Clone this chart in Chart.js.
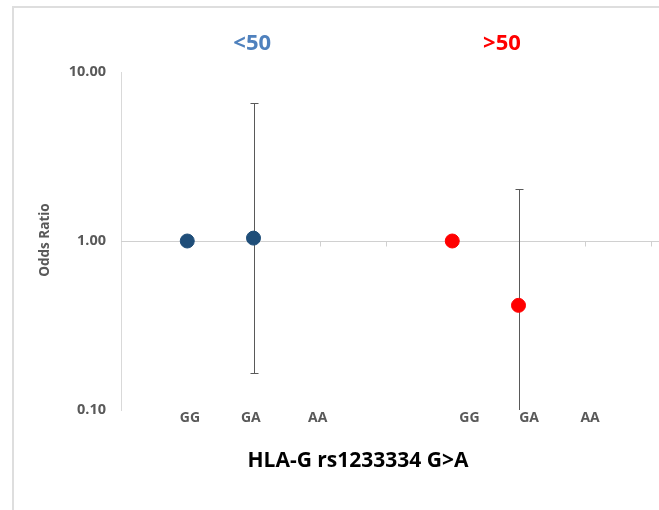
<!DOCTYPE html>
<html>
<head>
<meta charset="utf-8">
<script src="https://cdn.jsdelivr.net/npm/chart.js@4"></script>
<style>
  body { margin: 0; background: #fff; overflow: hidden; }
  #frame { position: absolute; left: 12px; top: 6px; width: 720px; height: 600px; border: 2px solid #dedede; }
  #wrap { position: absolute; left: 0; top: 0; width: 659px; height: 510px; }
</style>
</head>
<body>
<div id="frame"></div>
<div id="wrap"><canvas id="grafico" width="659" height="510"></canvas></div>
<script>
// grupos de edad y genotipos
const grupos = ['<50', '>50'];
const genotipos = ['GG', 'GA', 'AA', 'GG', 'GA', 'AA'];

// posición (en unidades del eje x) de cada genotipo
const xMenor50 = [1, 2, 3];
const xMayor50 = [5, 6, 7];
// donde va cada etiqueta del eje x y cada título de grupo
const xEtiquetas = [1.04, 1.96, 2.97, 5.26, 6.16, 7.08];
const xGrupos = [1.98, 5.75];

// odds ratio e intervalos de confianza
const orMenor50 = [1.00, 1.04, null];
const infMenor50 = [null, 0.166, null];
const supMenor50 = [null, 6.55, null];

const orMayor50 = [1.00, 0.416, null];
const infMayor50 = [null, 0.09, null];
const supMayor50 = [null, 2.03, null];

const ticksY = [0.1, 1, 10];

const fuente = 'Open Sans';

function puntos(xs, ys) {
    return xs.map((x, i) => ({ x: x, y: ys[i] })).filter(p => p.y !== null);
}

// líneas de error, línea del 1.00 y textos
const extras = {
    id: 'extras',
    beforeDatasetsDraw(chart) {
        const { ctx, chartArea, scales: { x, y } } = chart;
        ctx.save();
        // línea de referencia en 1.00
        const y1 = Math.round(y.getPixelForValue(1)) + 0.5;
        ctx.strokeStyle = '#d0d0d0';
        ctx.lineWidth = 1;
        ctx.beginPath();
        ctx.moveTo(chartArea.left, y1);
        ctx.lineTo(chart.width, y1);
        for (let v = x.min + 1; v <= x.max; v++) {
            const px = Math.round(x.getPixelForValue(v)) + 0.5;
            ctx.moveTo(px, y1);
            ctx.lineTo(px, y1 + 5);
        }
        ctx.stroke();

        // barras de error
        ctx.beginPath();
        ctx.rect(chartArea.left, chartArea.top, chartArea.right - chartArea.left + 10, chartArea.bottom - chartArea.top);
        ctx.clip();
        ctx.strokeStyle = '#595959';
        ctx.lineWidth = 1;
        chart.data.datasets.forEach(ds => {
            ds.xs.forEach((xv, i) => {
                if (ds.inf[i] === null || ds.sup[i] === null) return;
                const px = Math.round(x.getPixelForValue(xv)) + 0.5;
                const pl = Math.round(y.getPixelForValue(ds.inf[i])) + 0.5;
                const ph = Math.round(y.getPixelForValue(ds.sup[i])) + 0.5;
                ctx.beginPath();
                ctx.moveTo(px, pl);
                ctx.lineTo(px, ph);
                ctx.moveTo(px - 4, ph);
                ctx.lineTo(px + 4, ph);
                ctx.moveTo(px - 4, pl);
                ctx.lineTo(px + 4, pl);
                ctx.stroke();
            });
        });
        ctx.restore();
    },
    afterDraw(chart) {
        const { ctx, scales: { x } } = chart;
        ctx.save();
        ctx.textAlign = 'center';
        ctx.textBaseline = 'middle';
        // títulos de grupo
        const colores = ['#4f81bd', '#ff0000'];
        ctx.font = 'bold 22px "' + fuente + '"';
        grupos.forEach((g, i) => {
            ctx.fillStyle = colores[i];
            ctx.fillText(g, x.getPixelForValue(xGrupos[i]), 44);
        });
        // título eje x
        ctx.fillStyle = '#000';
        ctx.font = 'bold 21px "' + fuente + '"';
        ctx.fillText('HLA-G rs1233334 G>A', 358, 461);
        // título eje y
        ctx.translate(45, 240);
        ctx.rotate(-Math.PI / 2);
        ctx.fillStyle = '#595959';
        ctx.font = 'bold 13.5px "' + fuente + '"';
        ctx.fillText('Odds Ratio', 0, 0);
        ctx.restore();
    }
};

const ctx = document.getElementById('grafico').getContext('2d');
new Chart(ctx, {
    type: 'scatter',
    data: {
        datasets: [
            {
                label: grupos[0],
                data: puntos(xMenor50, orMenor50),
                xs: xMenor50, inf: infMenor50, sup: supMenor50,
                backgroundColor: '#1f4e79',
                borderColor: '#1f4e79',
                pointRadius: 7,
                pointHoverRadius: 7
            },
            {
                label: grupos[1],
                data: puntos(xMayor50, orMayor50),
                xs: xMayor50, inf: infMayor50, sup: supMayor50,
                backgroundColor: '#ff0000',
                borderColor: '#ff0000',
                pointRadius: 7,
                pointHoverRadius: 7
            }
        ]
    },
    options: {
        responsive: false,
        animation: false,
        layout: { padding: { top: 72, right: 7, left: 0, bottom: 0 } },
        plugins: {
            legend: { display: false },
            tooltip: { enabled: false }
        },
        scales: {
            x: {
                type: 'linear',
                min: 0,
                max: 8,
                grid: { display: false },
                border: { display: false },
                afterBuildTicks: s => { s.ticks = xEtiquetas.map(v => ({ value: v })); },
                afterFit: s => { s.height = 100; },
                ticks: {
                    padding: -8,
                    autoSkip: false,
                    maxRotation: 0,
                    color: '#595959',
                    font: { family: fuente, size: 14, weight: 'bold' },
                    callback: (v, i) => genotipos[i]
                }
            },
            y: {
                type: 'logarithmic',
                min: 0.1,
                max: 10,
                grid: { display: false, drawTicks: false },
                border: { display: true, color: '#d9d9d9', width: 1 },
                afterBuildTicks: s => { s.ticks = ticksY.map(v => ({ value: v })); },
                afterFit: s => { s.width = 121; },
                ticks: {
                    padding: 15,
                    color: '#595959',
                    font: { family: fuente, size: 14.5, weight: 'bold' },
                    callback: v => Number(v).toFixed(2)
                }
            }
        }
    },
    plugins: [extras]
});
</script>
</body>
</html>
